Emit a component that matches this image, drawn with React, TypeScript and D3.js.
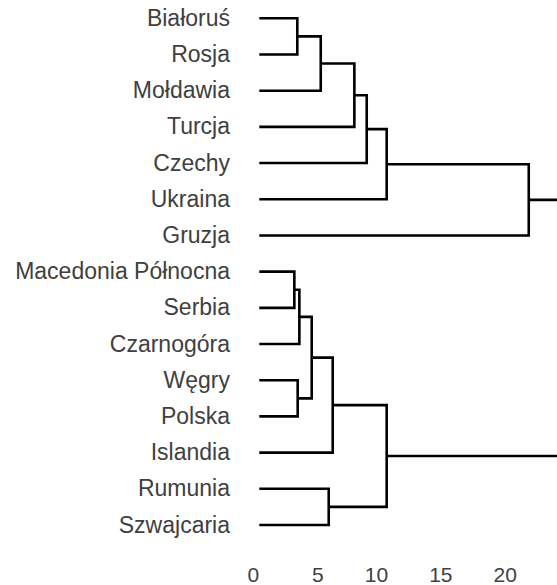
import React from "react";
import * as d3 from "d3";

const leaves = [
  "Białoruś",
  "Rosja",
  "Mołdawia",
  "Turcja",
  "Czechy",
  "Ukraina",
  "Gruzja",
  "Macedonia Północna",
  "Serbia",
  "Czarnogóra",
  "Węgry",
  "Polska",
  "Islandia",
  "Rumunia",
  "Szwajcaria",
];

// linkage: node index = leaves.length + i
const mergeLeft = [0, 15, 16, 17, 18, 19, 7, 21, 10, 22, 24, 13, 25, 20];
const mergeRight = [1, 2, 3, 4, 5, 6, 8, 9, 11, 23, 12, 14, 26, 27];
const mergeHeight = [2.95, 4.77, 7.38, 8.34, 9.89, 20.92, 2.72, 3.11, 2.98, 4.07, 5.7, 5.39, 9.89, 35];

const xTicks = [0, 5, 10, 15, 20];

const W = 557;
const H = 585;

export default function App() {
  const x = d3.scaleLinear().domain([0, 20]).range([259.3, 516.9]);
  const y = d3.scalePoint<string>().domain(leaves).range([18.3, 525]);

  const n = leaves.length;
  const nodeY: number[] = leaves.map((l) => y(l) as number);
  const nodeH: number[] = leaves.map(() => 0);
  const paths: string[] = [];
  mergeLeft.forEach((a, i) => {
    const b = mergeRight[i];
    const h = mergeHeight[i];
    const p = d3.path();
    p.moveTo(x(nodeH[a]), nodeY[a]);
    p.lineTo(x(h), nodeY[a]);
    p.lineTo(x(h), nodeY[b]);
    p.lineTo(x(nodeH[b]), nodeY[b]);
    paths.push(p.toString());
    nodeY[n + i] = (nodeY[a] + nodeY[b]) / 2;
    nodeH[n + i] = h;
  });

  return (
    <svg
      width={W}
      height={H}
      style={{ position: "absolute", left: 0, top: 0, background: "#fff" }}
      fontFamily="'Liberation Sans', Arial, sans-serif"
    >
      <g>
        {paths.map((d, i) => (
          <path key={i} d={d} fill="none" stroke="#000" strokeWidth={2.6} strokeLinejoin="miter" />
        ))}
      </g>
      <g fill="#404040" fontSize={23}>
        {leaves.map((l) => (
          <text key={l} x={230} y={(y(l) as number) + 7.5} textAnchor="end">
            {l}
          </text>
        ))}
      </g>
      <g fill="#404040" fontSize={21}>
        {xTicks.map((t) => (
          <text key={t} x={x(t)} y={581.5} textAnchor="end">
            {t}
          </text>
        ))}
      </g>
    </svg>
  );
}
